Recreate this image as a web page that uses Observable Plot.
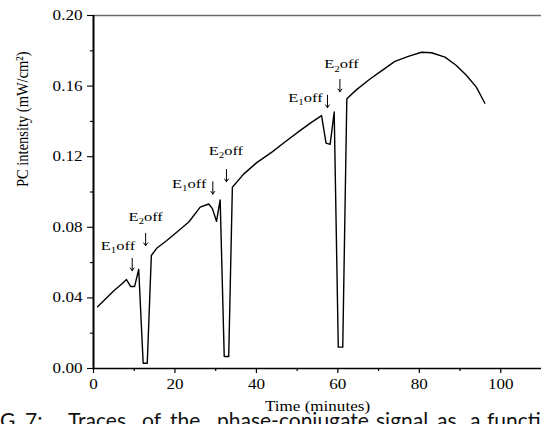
<!DOCTYPE html>
<html>
<head>
<meta charset="utf-8">
<script src="https://cdn.jsdelivr.net/npm/d3@7"></script>
<script src="https://cdn.jsdelivr.net/npm/@observablehq/plot@0.6"></script>
<style>
  html, body { margin: 0; padding: 0; width: 541px; height: 424px; overflow: hidden; background: white; }
  #wrap { position: relative; width: 541px; height: 424px; }
  #caption { position: absolute; left: 0; top: 0; width: 541px; height: 424px; pointer-events: none;
             font-family: Lato, "Noto Sans", sans-serif; font-size: 21px; color: #111; }
  #caption span { position: absolute; top: 409px; line-height: 21px; white-space: pre; }
</style>
</head>
<body>
<div id="wrap"></div>
<script>
// ---- data ----
const timeMin = [1, 3, 5, 7, 8.1, 9.1, 10.1, 11.1, 12.2, 13.2, 14.2, 15.6, 18, 20.5, 23.4, 26.2, 28.3, 29.2, 30.2, 31.1,
  32.1, 33.2, 34.1, 36.8, 40, 43.8, 47, 50.7, 53.6, 56.0, 57.1, 58.1, 59.1, 60.1, 61.2, 62.2, 64.6, 67.9, 70.8,
  74.0, 77.3, 80.5, 83.0, 86.3, 89.1, 91.6, 94.0, 96.1];
const pcIntensity = [0.035, 0.0395, 0.044, 0.048, 0.0504, 0.0465, 0.0465, 0.0562, 0.003, 0.003, 0.064, 0.0683, 0.0725,
  0.0773, 0.083, 0.0914, 0.0932, 0.0906, 0.0834, 0.0955, 0.0068, 0.0068, 0.1027, 0.110, 0.1165, 0.1226, 0.1283,
  0.1348, 0.1396, 0.1433, 0.1277, 0.127, 0.1453, 0.0121, 0.0121, 0.1528, 0.158, 0.164, 0.1688, 0.174, 0.1768,
  0.1792, 0.1789, 0.1764, 0.1717, 0.166, 0.1594, 0.1503];

const annLabels = ["E1off", "E2off", "E1off", "E2off", "E1off", "E2off"];
const annTextX = [6.0, 12.8, 23.5, 32.5, 52.05, 60.9];
const annTextY = [0.0697, 0.0861, 0.1048, 0.1235, 0.1537, 0.1726];
// arrow tail (top) and head (bottom) positions
const arrowX = [9.5, 12.8, 29.3, 32.65, 57.45, 60.5];
const arrowTop = [0.0624, 0.0766, 0.1058, 0.1128, 0.1548, 0.1638];
const arrowTip = [0.0554, 0.0696, 0.0988, 0.1058, 0.1478, 0.1568];

const xMajor = [0, 20, 40, 60, 80, 100];
const xMinor = [10, 30, 50, 70, 90];
const yMajor = [0, 0.04, 0.08, 0.12, 0.16, 0.20];
const yMinor = [0.02, 0.06, 0.10, 0.14, 0.18];

const xLabel = "Time (minutes)";
const yLabel = "PC intensity (mW/cm²)";
const captionWords = ["G", "7:", "Traces", "of", "the", "phase-conjugate", "signal", "as", "a", "function"];
const captionLeft = [0, 25, 68, 142, 170, 217, 376, 437, 470, 487];

// ---- build ----
const series = timeMin.map((t, i) => ({t, v: pcIntensity[i]}));
const annots = annLabels.map((s, i) => ({s, x: annTextX[i], y: annTextY[i]}));
const arrows = arrowX.map((x, i) => ({x, y1: arrowTop[i], y2: arrowTip[i]}));

const chart = Plot.plot({
  width: 541,
  height: 424,
  marginLeft: 93,
  marginRight: 0,
  marginTop: 15,
  marginBottom: 56,
  x: {domain: [0, 110]},
  y: {domain: [0, 0.2]},
  style: {fontFamily: "'Liberation Serif', 'Times New Roman', serif", fontSize: "14px", color: "black", background: "white"},
  marks: [
    Plot.ruleY([0.2], {stroke: "#6b6b6b", strokeWidth: 1.6}),
    Plot.axisY(yMinor, {tickSize: 3, tickFormat: () => "", label: null, strokeWidth: 1.1}),
    Plot.axisY(yMajor, {tickSize: 6, tickPadding: 5, tickFormat: d3.format(".2f"), label: null, strokeWidth: 1.1}),
    Plot.axisX(xMinor, {tickSize: 3, tickFormat: () => "", label: null, strokeWidth: 1.2}),
    Plot.axisX(xMajor, {tickSize: 5, tickPadding: 6, label: null, strokeWidth: 1.2}),
    Plot.ruleX([0], {stroke: "black", strokeWidth: 2}),
    Plot.ruleY([0], {stroke: "black", strokeWidth: 1.5}),
    Plot.line(series, {x: "t", y: "v", stroke: "black", strokeWidth: 1.4}),
    Plot.text(annots, {x: "x", y: "y", text: "s", fontSize: 13.5, className: "ann"}),
    Plot.arrow(arrows, {x1: "x", x2: "x", y1: "y1", y2: "y2", stroke: "black", strokeWidth: 1,
                        headLength: 5, headAngle: 70, insetStart: 0, insetEnd: 0}),
    Plot.text([xLabel], {frameAnchor: "bottom", dy: 42, fontSize: 14}),
    Plot.text([yLabel], {frameAnchor: "left", rotate: -90, dx: -71, dy: -5, fontSize: 14.5})
  ]
});

// subscripts in "E1off" / "E2off"
d3.select(chart).selectAll("g.ann text").each(function() {
  const s = this.textContent;
  const el = d3.select(this);
  el.text(null);
  el.append("tspan").text(s[0]);
  el.append("tspan").attr("font-size", "9px").attr("dy", "3.5").text(s[1]);
  el.append("tspan").attr("dy", "-3.5").text(s.slice(2));
});

// reference text is drawn horizontally stretched
d3.select(chart).selectAll("text").each(function() {
  const t = this.getAttribute("transform") || "";
  if (t.includes("rotate")) this.setAttribute("transform", t + " scale(1,1.2)");
  else this.setAttribute("transform", t + " scale(1.22,1)");
});

const wrap = document.getElementById("wrap");
wrap.appendChild(chart);
const cap = document.createElement("div");
cap.id = "caption";
captionWords.forEach((w, i) => {
  const sp = document.createElement("span");
  sp.textContent = w;
  sp.style.left = captionLeft[i] + "px";
  cap.appendChild(sp);
});
wrap.appendChild(cap);
</script>
</body>
</html>
